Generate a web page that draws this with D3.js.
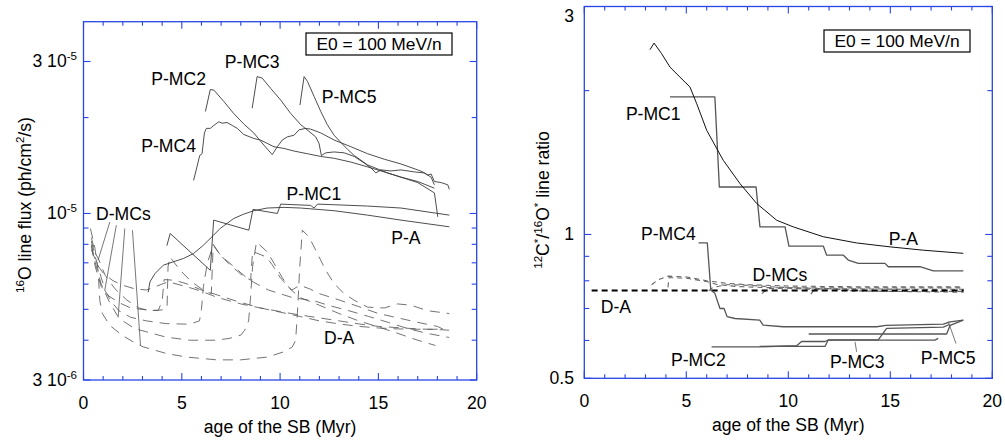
<!DOCTYPE html>
<html><head><meta charset="utf-8">
<script src="https://cdn.jsdelivr.net/npm/d3@7"></script>
<style>body{margin:0;background:#fff}svg{display:block}</style>
</head><body>
<svg id="chart" width="1005" height="440"></svg>
<script>
// ---------------- DATA ----------------
// age of the superbubble (Myr)
const ageMajorTicks = [0, 5, 10, 15, 20];
const ageMinorTicks = [1,2,3,4,6,7,8,9,11,12,13,14,16,17,18,19];
// left panel: 16O line flux, values in units of 1e-6 ph/cm2/s
const FLUX_UNIT = 1e-6;
const fluxMajorTicks = [{v: 3e-6, base: "3 10", exp: "-6"}, {v: 1e-5, base: "10", exp: "-5"}, {v: 3e-5, base: "3 10", exp: "-5"}];
const fluxMinorTicks = [4e-6, 5e-6, 6e-6, 7e-6, 8e-6, 9e-6, 2e-5];

const fluxPA = [[3.29,5.66],[3.38,6.10],[3.63,6.47],[4.06,6.88],[4.57,7.05],[5.08,7.22],[5.59,7.48],[6.10,7.95],[6.61,8.54],[6.95,8.97],[7.64,9.64],[8.15,9.95],[8.66,10.2],[9.34,10.4],[10.2,10.45],[11.05,10.4],[12.75,10.2],[14.45,9.88],[16.15,9.53],[18.61,9.08]];
const fluxPMC1 = [[4.24,7.92],[4.41,8.65],[6.45,6.63],[6.62,9.53],[8.41,8.86],[8.62,10.3],[9.86,10.0],[10.03,10.7],[11.55,10.6],[11.73,10.4],[11.90,10.7],[12.75,10.65],[14.45,10.55],[16.15,10.4],[18.61,9.88]];
const fluxPMC2 = [[6.20,20.9],[6.45,24.5],[6.63,24.4],[7.13,22.5],[7.64,20.6],[8.15,19.1],[8.66,17.9],[9.17,16.4],[9.60,15.3],[9.86,16.2],[10.11,17.0],[10.37,17.4],[10.71,17.6],[10.96,18.3],[11.30,18.5],[11.55,18.4],[12.07,17.9],[12.75,17.0],[13.60,16.2],[14.45,15.4],[15.30,14.8],[16.15,14.3],[17.00,13.7],[17.26,13.5],[17.51,13.2],[17.68,13.3],[17.85,12.6],[18.19,12.5],[18.53,12.3],[18.61,11.9]];
const fluxPMC3 = [[8.58,21.4],[8.83,26.9],[9.09,26.6],[9.52,24.7],[10.03,22.7],[10.54,20.6],[11.05,19.0],[11.47,18.1],[11.81,17.4],[11.98,16.6],[12.10,15.2],[12.32,15.5],[12.75,15.6],[13.26,15.5],[13.77,15.1],[14.28,14.4],[14.62,13.9],[14.87,13.4],[15.13,13.7],[15.64,13.6],[16.15,13.7],[16.84,13.5],[17.34,13.4],[17.68,13.0],[17.85,12.3]];
const fluxPMC4 = [[5.60,12.7],[5.77,14.0],[5.91,15.2],[6.03,15.4],[6.15,17.9],[6.25,18.5],[6.45,18.5],[6.63,18.9],[6.88,19.4],[7.05,19.2],[7.30,19.3],[7.56,18.9],[7.82,18.5],[8.15,17.7],[8.66,17.2],[9.00,17.0],[9.34,16.6],[9.69,16.2],[10.20,16.0],[10.71,15.7],[11.39,15.4],[12.07,15.1],[12.75,14.9],[13.60,14.5],[14.45,14.0],[15.30,13.5],[16.15,13.0],[17.00,12.6],[17.85,12.0]];
const fluxPMC5 = [[11.01,21.9],[11.22,26.9],[11.39,26.0],[11.73,23.3],[12.07,20.9],[12.40,19.0],[12.75,17.6],[13.09,16.7],[13.43,15.9],[13.77,15.2],[14.11,14.7],[14.45,14.2],[14.96,13.8],[15.47,13.4],[16.15,13.0],[17.00,12.5],[17.85,11.6],[18.02,9.76]];

const fluxDA = [[0.4,7.7],[0.7,6.9],[1.0,6.5],[1.5,6.15],[2.0,5.95],[2.6,5.8],[3.2,5.75],[4.3,6.1],[5.2,5.9],[6.0,5.7],[6.8,5.45],[8,5.2],[9,5.05],[10,4.92],[11,4.8],[12,4.7],[13,4.6],[14,4.5],[15,4.42],[16,4.38],[17,4.34],[18,4.32],[18.6,4.3]];
const fluxDMC1 = [[0.4,8.4],[0.6,7.5],[0.76,7.2],[1.1,6.4],[1.6,5.8],[2.2,5.35],[2.8,5.05],[3.4,4.95],[4.0,4.98],[4.25,5.05],[4.3,6.8],[4.4,7.3],[4.9,6.65],[5.5,6.1],[6.0,5.8],[6.5,5.6],[6.6,8.0],[6.96,7.4],[7.4,6.95],[8.0,6.45],[8.5,6.17],[8.6,7.6],[9.3,7.3],[9.6,6.9],[10.0,6.3],[10.4,5.9],[10.6,5.75],[11.0,5.95],[11.5,5.8],[12.0,5.6],[13.0,5.35],[14.0,5.1],[15.0,4.85],[16.0,4.7],[17.0,4.55],[18.0,4.42],[18.3,4.33]];
const fluxDMC2 = [[0.4,8.2],[0.6,7.3],[0.9,6.3],[1.1,5.73],[1.4,5.3],[1.8,4.95],[2.4,4.72],[3.2,4.6],[4.2,4.51],[5.4,4.49],[5.9,4.6],[6.0,5.0],[6.1,5.9],[6.3,7.0],[6.6,7.95],[7.0,7.35],[7.6,6.85],[8.4,6.2],[9.4,5.75],[10.6,5.45],[11.8,5.3],[12.5,5.14],[13.5,4.95],[14.5,4.75],[15.5,4.55],[16.5,4.35],[17.5,4.2],[18.6,4.08]];
const fluxDMC3 = [[0.4,8.0],[0.6,7.0],[0.9,6.0],[1.3,5.3],[1.72,4.78],[2.0,4.6],[2.6,4.35],[3.2,4.25],[4.2,4.09],[5.4,4.0],[6.7,4.0],[7.4,4.05],[8.0,4.15],[8.2,4.3],[8.4,4.6],[8.5,5.5],[8.6,6.8],[8.8,8.14],[9.35,7.57],[9.7,6.96],[10.1,6.3],[10.5,5.8],[11.0,5.45],[12.0,5.15],[13.0,4.85],[14.0,4.6],[15.0,4.4],[16.0,4.2],[17.0,4.0],[17.9,3.85]];
const fluxDMC4 = [[0.4,7.9],[0.6,6.8],[0.9,5.9],[1.3,5.5],[1.8,5.25],[2.4,5.05],[3.2,4.98],[3.8,4.96],[4.0,5.3],[4.1,6.2],[4.65,6.17],[5.3,6.0],[6.0,5.75],[6.8,5.55],[7.8,5.3],[9,5.05],[10,4.9],[11,4.75],[12,4.6],[13,4.5],[14,4.42],[15,4.37],[16,4.34],[17,4.33],[18.3,4.33]];
const fluxDMC5 = [[0.35,8.97],[0.57,7.85],[0.74,6.63],[0.83,5.33],[0.96,4.85],[1.34,4.45],[1.98,4.14],[2.69,3.90],[3.05,3.81],[4.24,3.63],[5.26,3.54],[6.79,3.47],[7.98,3.47],[9.34,3.54],[10.20,3.68],[10.62,3.81],[10.79,4.0],[10.88,4.85],[11.0,6.79],[11.13,8.86],[11.47,8.44],[11.90,7.48],[12.32,6.63],[12.75,6.02],[13.26,5.60],[13.77,5.34],[14.45,5.08],[15.3,5.05],[15.98,5.2],[16.66,5.15],[17.51,4.95],[18.61,4.85]];

// right panel: 12C*/16O* line ratio
const ratioMajorTicks = [0.5, 1, 3];
const ratioMinorTicks = [0.6, 0.7, 0.8, 0.9, 2];
const ratioPA = [[3.22,2.436],[3.42,2.515],[3.79,2.39],[4.2,2.24],[4.69,2.135],[5.18,2.035],[5.51,1.878],[6.0,1.652],[6.81,1.43],[7.63,1.278],[8.45,1.161],[9.43,1.071],[10.25,1.037],[11.72,0.989],[13.35,0.960],[14.99,0.942],[16.62,0.927],[18.58,0.913]];
const ratioPMC1 = [[4.2,1.94],[6.4,1.94],[6.62,1.257],[8.42,1.257],[8.61,1.037],[9.84,1.037],[10.03,0.945],[11.72,0.945],[11.88,0.905],[12.70,0.905],[12.94,0.884],[13.43,0.870],[14.74,0.870],[14.90,0.856],[16.45,0.856],[17.11,0.839],[18.58,0.839]];
const ratioPMC2 = [[6.24,0.582],[8.61,0.582],[10.41,0.585],[10.65,0.597],[11.80,0.597],[11.96,0.601],[17.19,0.601],[17.35,0.606]];
const ratioPMC3 = [[8.6,0.583],[11.8,0.583],[11.96,0.602],[14.41,0.602],[14.82,0.636],[17.6,0.640],[17.9,0.648]];
const ratioPMC4 = [[5.6,0.960],[6.03,0.960],[6.2,0.765],[6.40,0.753],[6.65,0.700],[6.85,0.700],[7.0,0.673],[7.39,0.667],[8.6,0.662],[8.77,0.646],[9.75,0.641],[14.33,0.641],[14.8,0.645],[17.6,0.649],[17.93,0.656],[18.58,0.662]];
const ratioPMC5 = [[11.0,0.619],[17.76,0.619],[17.93,0.645],[18.58,0.662]];
const ratioDA = [[0.36,0.763],[18.6,0.763]];
const ratioDMC1 = [[3.3,0.785],[3.6,0.803],[4.1,0.818],[5.0,0.815],[6.0,0.80],[7.0,0.79],[8.0,0.785],[10,0.780],[12,0.778],[14,0.777],[16,0.777],[18.6,0.777]];
const ratioDMC2 = [[4.1,0.775],[4.15,0.812],[5.0,0.810],[6.0,0.797],[6.5,0.786],[7.5,0.778],[9,0.774],[11,0.773],[13,0.773],[15,0.773],[18.6,0.773]];
const ratioDMC3 = [[6.1,0.762],[6.3,0.775],[7,0.785],[8,0.783],[9,0.778],[10,0.774],[12,0.770],[14,0.769],[16,0.768],[18.6,0.768]];
const ratioDMC4 = [[8.7,0.752],[9.0,0.770],[10,0.772],[11,0.768],[12,0.764],[14,0.761],[18.6,0.760]];
const ratioDMC5 = [[11.1,0.750],[11.3,0.768],[12,0.770],[13,0.765],[15,0.760],[18.6,0.757]];

// ---------------- DRAW ----------------
const FONT = "'Liberation Sans', Arial, Helvetica, sans-serif";
const FS = 17.6;
const BLUE = "#2a45e6";
const svg = d3.select("#chart").attr("font-family", FONT);

const xL = d3.scaleLinear([0, 20], [83.5, 476.7]);
const yL = d3.scaleLog([3e-6, 4e-5], [380, 21.7]);
const xR = d3.scaleLinear([0, 20], [584.3, 992.3]);
const yR = d3.scaleLog([0.5, 3], [378.3, 6.5]);

function rich(sel, parts, size) {
  let up = false;
  parts.forEach(p => {
    const ts = sel.append("tspan").text(p.t);
    if (p.sup) {
      ts.attr("font-size", size * 0.66);
      if (!up) { ts.attr("dy", -0.42 * size); up = true; }
    } else if (up) { ts.attr("dy", 0.42 * size); up = false; }
  });
}

function frame(x, y, yMajor, yMinor) {
  const [x0, x1] = x.range(), [y1, y0] = y.range();
  const g = svg.append("g").attr("stroke", BLUE).attr("stroke-width", 1.1);
  ageMajorTicks.forEach(v => {
    g.append("line").attr("x1", x(v)).attr("x2", x(v)).attr("y1", y1).attr("y2", y1 - 7);
    g.append("line").attr("x1", x(v)).attr("x2", x(v)).attr("y1", y0).attr("y2", y0 + 7);
  });
  ageMinorTicks.forEach(v => {
    g.append("line").attr("x1", x(v)).attr("x2", x(v)).attr("y1", y1).attr("y2", y1 - 4);
    g.append("line").attr("x1", x(v)).attr("x2", x(v)).attr("y1", y0).attr("y2", y0 + 4);
  });
  yMajor.forEach(v => {
    g.append("line").attr("x1", x0).attr("x2", x0 + 7).attr("y1", y(v)).attr("y2", y(v));
    g.append("line").attr("x1", x1).attr("x2", x1 - 7).attr("y1", y(v)).attr("y2", y(v));
  });
  yMinor.forEach(v => {
    g.append("line").attr("x1", x0).attr("x2", x0 + 5).attr("y1", y(v)).attr("y2", y(v));
    g.append("line").attr("x1", x1).attr("x2", x1 - 5).attr("y1", y(v)).attr("y2", y(v));
  });
  g.append("rect").attr("x", x0).attr("y", y0).attr("width", x1 - x0).attr("height", y1 - y0)
    .attr("fill", "none").attr("stroke-width", 1.3);
  ageMajorTicks.forEach(v => {
    svg.append("text").attr("x", x(v)).attr("y", y1 + 29).attr("text-anchor", "middle")
      .attr("font-size", FS).text(v);
  });
  svg.append("text").attr("x", (x0 + x1) / 2).attr("y", y1 + 53).attr("text-anchor", "middle")
    .attr("font-size", FS).text("age of the SB (Myr)");
}

function drawLine(x, y, data, unit, style) {
  const gen = d3.line().x(d => x(d[0])).y(d => y(d[1] * unit));
  svg.append("path").attr("d", gen(data)).attr("fill", "none")
    .attr("stroke", style.color).attr("stroke-width", style.width)
    .attr("stroke-dasharray", style.dash || null).attr("stroke-linejoin", "round");
}

// ---- left panel ----
frame(xL, yL, fluxMajorTicks.map(d => d.v), fluxMinorTicks);
fluxMajorTicks.forEach(d => {
  const t = svg.append("text").attr("x", 77).attr("y", yL(d.v) + 6).attr("text-anchor", "end").attr("font-size", FS);
  rich(t, [{t: d.base}, {t: d.exp, sup: true}], FS);
});
{
  const t = svg.append("text").attr("transform", "translate(31,205) rotate(-90)")
    .attr("text-anchor", "middle").attr("font-size", FS);
  rich(t, [{t: "16", sup: true}, {t: "O line flux (ph/cm"}, {t: "2", sup: true}, {t: "/s)"}], FS);
}
const dashL = {color: "#5a5a5a", width: 0.85, dash: "10,7"};
[fluxDA, fluxDMC1, fluxDMC2, fluxDMC3, fluxDMC4, fluxDMC5].forEach(s => drawLine(xL, yL, s, FLUX_UNIT, dashL));
const solidL = {color: "#3a3a3a", width: 0.9};
[fluxPA, fluxPMC1, fluxPMC2, fluxPMC3, fluxPMC4, fluxPMC5].forEach(s => drawLine(xL, yL, s, FLUX_UNIT, solidL));

const leadersL = [[[1.34, 9.41], [0.74, 7.13]], [[1.67, 9.19], [1.08, 5.73]], [[2.10, 8.97], [1.76, 4.72]], [[2.49, 8.86], [2.90, 3.85]]];
leadersL.forEach(l => drawLine(xL, yL, l, FLUX_UNIT, {color: "#555", width: 0.8}));

const labelsL = [["P-MC2", 4.84, 26.5], ["P-MC3", 8.58, 29.9], ["P-MC5", 13.51, 23.3], ["P-MC4", 4.33, 16.3],
  ["P-MC1", 11.72, 11.56], ["D-MCs", 2.03, 10.0], ["P-A", 16.40, 8.40], ["D-A", 13.0, 4.07]];
labelsL.forEach(([s, t, v]) => svg.append("text").attr("x", xL(t)).attr("y", yL(v * FLUX_UNIT)).attr("dy", "0.36em")
  .attr("text-anchor", "middle").attr("font-size", FS).text(s));

function e0Box(xr, yt) {
  svg.append("rect").attr("x", xr - 146).attr("y", yt).attr("width", 146).attr("height", 22)
    .attr("fill", "#fff").attr("stroke", "#000").attr("stroke-width", 1.2);
  svg.append("text").attr("x", xr - 73).attr("y", yt + 17).attr("text-anchor", "middle")
    .attr("font-size", 17.4).text("E0 = 100 MeV/n");
}
e0Box(452, 33);
e0Box(970, 30);

// ---- right panel ----
frame(xR, yR, ratioMajorTicks, ratioMinorTicks);
ratioMajorTicks.forEach(v => {
  svg.append("text").attr("x", 574).attr("y", Math.max(yR(v), 15.5) + 6).attr("text-anchor", "end")
    .attr("font-size", FS).text(v);
});
{
  const t = svg.append("text").attr("transform", "translate(549,200) rotate(-90)")
    .attr("text-anchor", "middle").attr("font-size", FS);
  rich(t, [{t: "12", sup: true}, {t: "C"}, {t: "*", sup: true}, {t: "/"}, {t: "16", sup: true}, {t: "O"}, {t: "*", sup: true}, {t: " line ratio"}], FS);
}
const dashR = {color: "#666", width: 1.1, dash: "5,4"};
[ratioDMC1, ratioDMC2, ratioDMC3, ratioDMC4, ratioDMC5].forEach(s => drawLine(xR, yR, s, 1, dashR));
drawLine(xR, yR, ratioDA, 1, {color: "#000", width: 2, dash: "6,4"});
const stepR = {color: "#555", width: 1.3};
[ratioPMC1, ratioPMC2, ratioPMC3, ratioPMC4, ratioPMC5].forEach(s => drawLine(xR, yR, s, 1, stepR));
drawLine(xR, yR, ratioPA, 1, {color: "#111", width: 1});
const leadersR = [[[13.27, 0.596], [13.35, 0.568]], [[17.84, 0.657], [18.22, 0.591]]];
leadersR.forEach(l => drawLine(xR, yR, l, 1, {color: "#555", width: 0.8}));

const labelsR = [["P-MC1", 3.38, 1.790], ["P-MC4", 4.12, 1.005], ["D-MCs", 9.59, 0.822], ["D-A", 1.55, 0.706],
  ["P-A", 15.64, 0.981], ["P-MC2", 5.59, 0.546], ["P-MC3", 13.38, 0.542], ["P-MC5", 17.84, 0.551]];
labelsR.forEach(([s, t, v]) => svg.append("text").attr("x", xR(t)).attr("y", yR(v)).attr("dy", "0.36em")
  .attr("text-anchor", "middle").attr("font-size", FS).text(s));
</script>
</body></html>
